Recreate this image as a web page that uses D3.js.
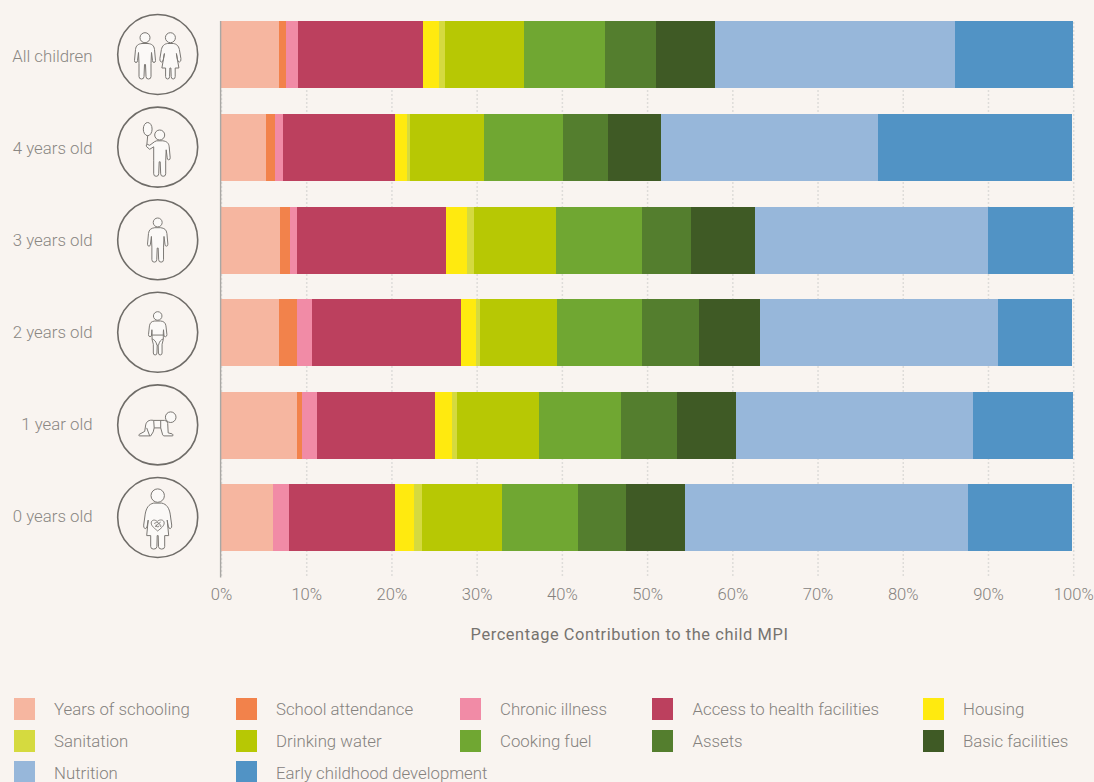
<!DOCTYPE html>
<html>
<head>
<meta charset="utf-8">
<script src="https://cdn.jsdelivr.net/npm/d3@7"></script>
<style>
html,body{margin:0;padding:0;background:#f9f4f0;overflow:hidden}
svg{display:block}
text{font-family:Roboto,"Open Sans",sans-serif;font-weight:300}
</style>
</head>
<body>
<div id="chart"></div>
<script>
const ageGroups = ["All children","4 years old","3 years old","2 years old","1 year old","0 years old"];
const tickValues = [0,10,20,30,40,50,60,70,80,90,100];
const axisTitle = "Percentage Contribution to the child MPI";

const yearsOfSchooling = [6.81,5.28,6.92,6.81,8.92,6.10];
const schoolAttendance = [0.82,1.06,1.17,2.11,0.59,0];
const chronicIllness   = [1.41,0.94,0.82,1.76,1.76,1.88];
const healthAccess     = [14.67,13.15,17.49,17.49,13.85,12.44];
const housing          = [1.88,1.41,2.46,1.76,2.00,2.23];
const sanitation       = [0.70,0.35,0.82,0.47,0.59,0.94];
const drinkingWater    = [9.27,8.69,9.62,9.04,9.62,9.39];
const cookingFuel      = [9.51,9.27,10.09,9.98,9.62,8.92];
const assets           = [5.99,5.28,5.75,6.69,6.57,5.63];
const basicFacilities  = [6.92,6.22,7.51,7.16,6.92,6.92];
const nutrition        = [28.17,25.47,27.35,27.93,27.82,33.22];
const earlyChildhood   = [13.85,22.77,9.98,8.69,11.74,12.21];

const seriesNames = ["Years of schooling","School attendance","Chronic illness","Access to health facilities","Housing","Sanitation","Drinking water","Cooking fuel","Assets","Basic facilities","Nutrition","Early childhood development"];
const seriesValues = [yearsOfSchooling,schoolAttendance,chronicIllness,healthAccess,housing,sanitation,drinkingWater,cookingFuel,assets,basicFacilities,nutrition,earlyChildhood];
const seriesColors = ["#f6b6a0","#f2824b","#f18ba6","#bc405e","#ffea0f","#d5da3f","#b7c804","#70a732","#547e2e","#3f5a25","#97b7da","#5193c5"];

const W = 1094, H = 782;
const svg = d3.select("#chart").append("svg").attr("width",W).attr("height",H);
svg.append("rect").attr("width",W).attr("height",H).attr("fill","#f9f4f0");

const x = d3.scaleLinear().domain([0,100]).range([221,1073.2]);
const y = d3.scaleBand().domain(ageGroups).range([8.2,563.8]).paddingInner(0.2765).paddingOuter(0.13825);
const labelY = d3.scalePoint().domain(ageGroups).range([57,517]);

const rows = ageGroups.map((g,i)=>{const r={group:g};seriesNames.forEach((s,j)=>r[s]=seriesValues[j][i]);return r;});
const stacked = d3.stack().keys(seriesNames)(rows);

// axis + dotted gridlines
const axisY = 576;
const axis = d3.axisBottom(x).tickValues(tickValues).tickFormat(d=>d+"%").tickSize(-(axisY-21)).tickPadding(0);
const gAxis = svg.append("g").attr("transform",`translate(0,${axisY})`).call(axis);
gAxis.select(".domain").remove();
gAxis.selectAll(".tick line").attr("stroke","#dedcd9").attr("stroke-width",1.5).attr("stroke-dasharray","2,2");
gAxis.selectAll(".tick text").attr("y",24).attr("dy",0).attr("font-size",16.6).attr("fill","#85827e").attr("text-anchor","middle");

// bars
svg.append("g").selectAll("g").data(stacked).join("g").attr("fill",(d,i)=>seriesColors[i])
  .selectAll("rect").data(d=>d).join("rect")
  .attr("x",d=>x(d[0])).attr("width",d=>x(d[1])-x(d[0]))
  .attr("y",d=>Math.ceil(y(d.data.group)-0.01)).attr("height",y.bandwidth())
  .attr("shape-rendering","crispEdges");

// baseline
svg.append("line").attr("x1",x(0)-0.4).attr("x2",x(0)-0.4).attr("y1",21).attr("y2",577.5)
  .attr("stroke","#a9a7a4").attr("stroke-width",1.4);

// category labels
svg.append("g").selectAll("text").data(ageGroups).join("text")
  .attr("x",92.5).attr("y",d=>labelY(d)).attr("dy","0.32em")
  .attr("text-anchor","end").attr("font-size",16.8).attr("fill","#8a8783").text(d=>d);

// axis title
svg.append("text").attr("x",629.5).attr("y",634).attr("dy","0.35em").attr("text-anchor","middle")
  .attr("font-size",16.4).attr("letter-spacing",0.58).attr("fill","#76736f").style("font-weight",400).text(axisTitle);

// icons
const ink="#7a7773", bodyFill="#fbf9f7";
const boy="M-3,0C-7,.5-9,2-9.5,6L-10.5,17Q-10.5,19-9,19Q-7.5,19-7.5,17L-6.5,9L-6,20L-6,33Q-6,35.5-3.5,35.5Q-1,35.5-1,33L-.5,21L.5,21L1,33Q1,35.5 3.5,35.5Q6,35.5 6,33L6,20L6.5,9L7.5,17Q7.5,19 9,19Q10.5,19 10.5,17L9.5,6C9,2 7,.5 3,0Z";
const girl="M-3,0C-6,.5-8,2-9,6L-10.5,15Q-11,18-9,18.5Q-7.5,18.5-7,16L-6,10L-8.5,24.5L-4.8,24.5L-4.8,33Q-4.8,35.5-2.8,35.5Q-.8,35.5-.8,33L-.5,24.5L.5,24.5L.8,33Q.8,35.5 2.8,35.5Q4.8,35.5 4.8,33L4.8,24.5L8.5,24.5L6,10L7,16Q7.5,18.5 9,18.5Q11,18 10.5,15L9,6C8,2 6,.5 3,0Z";
const boyRaised="M-3,0L-5,.8L-10,4.5L-12.5,3.5Q-14,4-13.2,5.8L-10,8.5L-6,6L-6,20L-6,33Q-6,35.5-3.5,35.5Q-1,35.5-1,33L-.5,21L.5,21L1,33Q1,35.5 3.5,35.5Q6,35.5 6,33L6,20L6.5,9L7.5,17Q7.5,19 9,19Q10.5,19 10.5,17L9.5,6C9,2 7,.5 3,0Z";
const toddler="M-3,0C-6.5,.3-8,2-8.5,5L-9.5,14Q-9.5,16-8,16.2L-6.5,15.5L-6,9L-5.8,12L-5.8,19L-4.5,24L-4.5,33Q-4.5,35-2.6,35Q-.8,35-.8,33L-.5,25L.5,25L.8,33Q.8,35 2.6,35Q4.5,35 4.5,33L4.5,24L5.8,19L5.8,12L6,9L6.5,15.5L8,16.2Q9.5,16 9.5,14L8.5,5C8,2 6.5,.3 3,0Z";
const toddlerDiaper="M-5.8,14.5L5.8,14.5M-5.8,18.5Q-2,19.5-.8,25M5.8,18.5Q2,19.5 .8,25";
const crawler="M-4,-4.5C-9,-5.5-11.5,-3-12,0L-13,6.5L-18.5,9.5Q-19.5,11-18,11L-7,11L-4.5,7L-3.5,3L3,3L5,10L6,11L15,11Q16,10 14.5,9L10.5,8L10,-1.5Q10,-4 7,-4.5Z";
const crawlerLines="M-4,-4.5L-3.5,3M3,-4.5L3,3M-11,3L-8,11";
const mother="M-4,0C-9,1-11.5,5-12.5,11L-14,22Q-14.5,25-12.5,25.5Q-11,25.5-10.5,23L-9.5,17L-11,32.5L-7,32.5L-7,43.5Q-7,46-4,46Q-1,46-.8,43.5L-.5,32.5L.5,32.5L.8,43.5Q1,46 4,46Q7,46 7,43.5L7,32.5L11,32.5L9.5,17L10.5,23Q11,25.5 12.5,25.5Q14.5,25 14,22L12.5,11C11.5,5 9,1 4,0Z";
const baby="M0,6C-3,3.5-6.5,1-6.5,-2C-6.5,-5-3,-6-.5,-3.5C2,-6 6.5,-5.5 6.5,-2C6.5,1 3,3.5 0,6ZM-3.5,-1.5Q-1,-4 1.5,-1.5T3,2M-2.5,2Q0,-1 3,-3M-1.5,-.5A1.6,1.6 0 1 0 1.5,.5";

const icons = [
  g=>{ fig(g,-12.7,-11,1,boy,5); fig(g,12.7,-11,1,girl,5); },
  g=>{ g.append("ellipse").attr("cx",-10).attr("cy",-18).attr("rx",4.4).attr("ry",6.6).attr("fill",bodyFill).attr("stroke",ink).attr("stroke-width",1);
       g.append("path").attr("d","M-10,-11.4L-11,-1").attr("fill","none").attr("stroke",ink).attr("stroke-width",1);
       fig(g,2,-6.3,1,boyRaised,5); },
  g=>{ fig(g,0,-12,.97,boy,4.6); },
  g=>{ fig(g,0,-11.3,.97,toddler,4.4,toddlerDiaper); },
  g=>{ g.append("circle").attr("cx",13).attr("cy",-7.7).attr("r",5.3).attr("fill",bodyFill).attr("stroke",ink).attr("stroke-width",1);
       g.append("path").attr("d",crawler).attr("fill",bodyFill).attr("stroke",ink).attr("stroke-width",1).attr("stroke-linejoin","round");
       g.append("path").attr("d",crawlerLines).attr("fill","none").attr("stroke",ink).attr("stroke-width",1); },
  g=>{ fig(g,0,-14.4,1,mother,6.7,null);
       g.append("path").attr("d",baby).attr("transform","translate(0,7.5)").attr("fill","none").attr("stroke",ink).attr("stroke-width",.9); }
];
function fig(g,dx,neck,s,path,r,extra){
  const f=g.append("g").attr("transform",`translate(${dx},${neck}) scale(${s})`);
  f.append("circle").attr("cx",0).attr("cy",-r-0.8).attr("r",r).attr("fill",bodyFill).attr("stroke",ink).attr("stroke-width",1);
  f.append("path").attr("d",path).attr("fill",bodyFill).attr("stroke",ink).attr("stroke-width",1).attr("stroke-linejoin","round");
  if(extra) f.append("path").attr("d",extra).attr("fill","none").attr("stroke",ink).attr("stroke-width",1);
}
ageGroups.forEach((g,i)=>{
  const c=svg.append("g").attr("transform",`translate(157.7,${y(g)+y.bandwidth()/2})`);
  c.append("circle").attr("r",40).attr("fill","none").attr("stroke","#6f6c68").attr("stroke-width",1.6);
  icons[i](c);
});

// legend
const legendX = [14,236,460,652,923];
const legendTextX = [54,276,500,692.5,963];
const legendY = [698,730,761];
const legend = svg.append("g").selectAll("g").data(seriesNames).join("g");
legend.append("rect")
  .attr("x",(d,i)=>legendX[i%5]).attr("y",(d,i)=>legendY[Math.floor(i/5)])
  .attr("width",21).attr("height",22).attr("fill",(d,i)=>seriesColors[i]);
legend.append("text")
  .attr("x",(d,i)=>legendTextX[i%5]).attr("y",(d,i)=>[709,741,773][Math.floor(i/5)]).attr("dy","0.35em")
  .attr("font-size",16.8).attr("fill","#85827e").text(d=>d);
</script>
</body>
</html>
